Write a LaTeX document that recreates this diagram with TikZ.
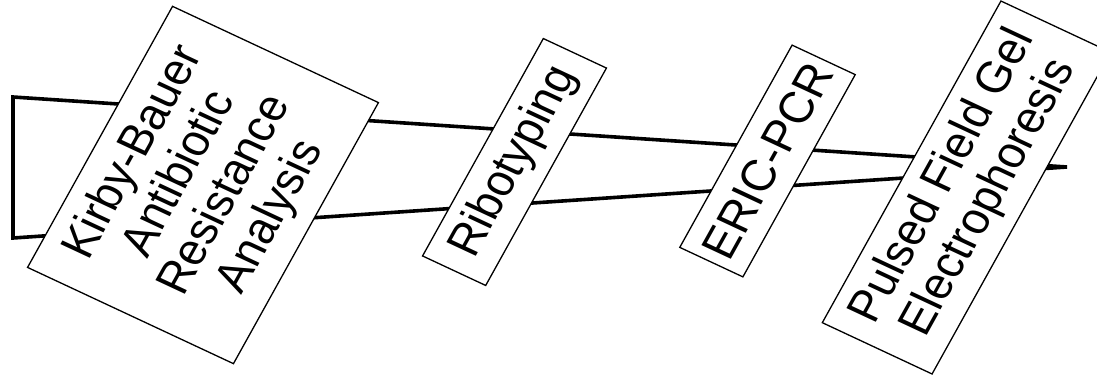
\documentclass[tikz,border=0pt]{standalone}
\usepackage{fontspec}
\setmainfont{Liberation Sans}
\begin{document}
\begin{tikzpicture}[x=1pt,y=1pt,
  wedge/.style={line width=3.6pt,line join=miter},
  stage/.style={draw,line width=1.3pt,fill=white,rotate=63,transform shape,
    inner sep=0pt,align=center,
    font=\fontsize{44}{47}\selectfont}]
\useasboundingbox (0,0) rectangle (1097,-375);
\clip (0,0) rectangle (1097,-375);
\coordinate (tl) at (13,-97);
\coordinate (bl) at (13,-238);
\coordinate (tip) at (1067,-167);
\draw[wedge] (tip) -- (tl) -- (bl) -- (tip);
\begin{scope}[xscale=1.09]
\node[stage,minimum width=293,minimum height=212] (kb) at ({203/1.09},-185)
  {Kirby-Bauer\\Antibiotic\\Resistance\\Analysis};
\node[stage,minimum width=244,minimum height=65] (ribo) at ({514.5/1.09},-162)
  {Ribotyping};
\node[stage,minimum width=227,minimum height=65] (eric) at ({767.5/1.09},-161)
  {ERIC-PCR};
\node[stage,minimum width=361,minimum height=113] (pfge) at ({966.5/1.09},-187.5)
  {Pulsed Field Gel\\Electrophoresis};
\end{scope}
\end{tikzpicture}
\end{document}
